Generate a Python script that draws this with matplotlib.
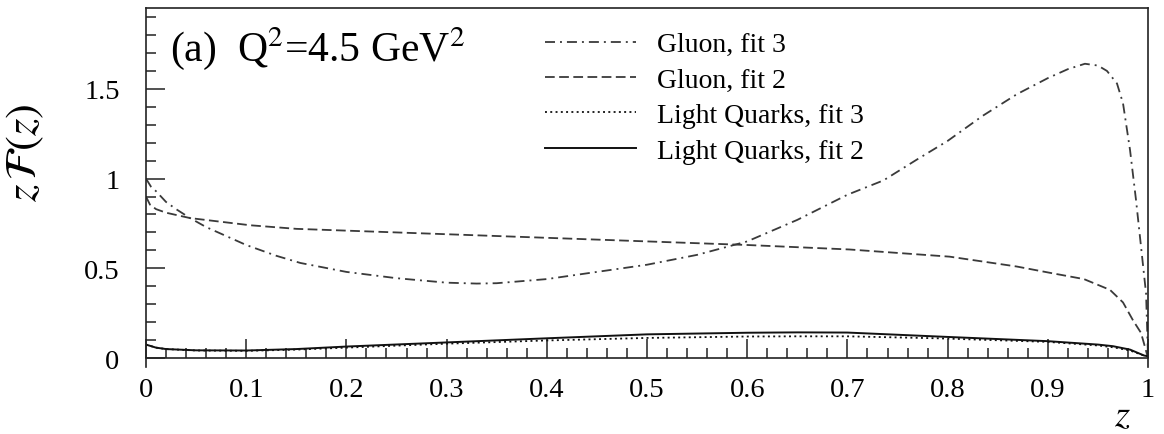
import matplotlib
matplotlib.use("Agg")
import matplotlib.pyplot as plt
from matplotlib.ticker import MultipleLocator, FixedLocator

plt.rcParams['font.family'] = ['Liberation Serif', 'DejaVu Serif']
plt.rcParams['mathtext.fontset'] = 'stix'
plt.rcParams['lines.scale_dashes'] = False

# Gluon, fit 3 (dash-dot)
z_g3 = [0, 0.005, 0.01, 0.02, 0.03, 0.044, 0.06, 0.08, 0.1, 0.13, 0.154, 0.2, 0.25, 0.3,
        0.33, 0.35, 0.4, 0.45, 0.5, 0.55, 0.6, 0.65, 0.7, 0.736, 0.769, 0.8, 0.835, 0.869,
        0.9, 0.92, 0.937, 0.95, 0.959, 0.969, 0.975, 0.982, 0.988, 0.993, 0.998, 1.0]
g3 = [1.0, 0.955, 0.93, 0.87, 0.83, 0.78, 0.73, 0.68, 0.63, 0.57, 0.53, 0.48, 0.445, 0.42,
      0.415, 0.417, 0.44, 0.48, 0.52, 0.575, 0.65, 0.77, 0.91, 0.99, 1.105, 1.21, 1.35, 1.47,
      1.56, 1.61, 1.64, 1.63, 1.60, 1.53, 1.42, 1.16, 0.88, 0.62, 0.36, 0.0]

# Gluon, fit 2 (dashed)
z_g2 = [0, 0.004, 0.01, 0.02, 0.044, 0.074, 0.104, 0.15, 0.2, 0.3, 0.4, 0.5, 0.6, 0.702,
        0.802, 0.869, 0.902, 0.936, 0.962, 0.975, 0.985, 0.993, 1.0]
g2 = [0.9, 0.855, 0.83, 0.81, 0.78, 0.76, 0.74, 0.72, 0.71, 0.69, 0.67, 0.65, 0.63, 0.605,
      0.565, 0.51, 0.475, 0.44, 0.38, 0.31, 0.21, 0.14, 0.0]

# Light quarks
z_q = [0, 0.01, 0.02, 0.05, 0.1, 0.15, 0.2, 0.3, 0.4, 0.5, 0.6, 0.65, 0.7, 0.79, 0.9,
       0.95, 0.965, 0.982, 0.996, 1.0]
q3 = [0.075, 0.058, 0.05, 0.042, 0.04, 0.047, 0.058, 0.08, 0.098, 0.112, 0.12, 0.121,
      0.121, 0.11, 0.09, 0.07, 0.06, 0.042, 0.014, 0.01]
q2 = [0.075, 0.058, 0.05, 0.043, 0.042, 0.05, 0.064, 0.087, 0.11, 0.132, 0.141, 0.143,
      0.142, 0.12, 0.094, 0.075, 0.066, 0.047, 0.014, 0.01]

labels = ["Gluon, fit 3", "Gluon, fit 2", "Light Quarks, fit 3", "Light Quarks, fit 2"]
xtick_vals = [0, 0.1, 0.2, 0.3, 0.4, 0.5, 0.6, 0.7, 0.8, 0.9, 1.0]
xtick_text = ['0', '0.1', '0.2', '0.3', '0.4', '0.5', '0.6', '0.7', '0.8', '0.9', '1']
ytick_vals = [0, 0.5, 1.0, 1.5]
ytick_text = ['0', '0.5', '1', '1.5']

fig = plt.figure(figsize=(11.64, 4.35), dpi=100)
ax = fig.add_axes([0.1254, 0.154, 0.8609, 0.825])

gray = '#3a3a3a'
ax.plot(z_g3, g3, color=gray, lw=1.3, linestyle=(0, (7.2, 3.6, 1.4, 3.6)), label=labels[0])
ax.plot(z_g2, g2, color=gray, lw=1.3, linestyle=(0, (7.0, 3.2)), label=labels[1])
ax.plot(z_q, q3, color='#111111', lw=1.3, linestyle=(0, (1.4, 2.4)), label=labels[2])
ax.plot(z_q, q2, color='#111111', lw=1.4, linestyle='-', label=labels[3])

ax.set_xlim(0, 1)
ax.set_ylim(-0.05, 1.95)

ax.spines['bottom'].set_position(('data', 0))
for s in ax.spines.values():
    s.set_linewidth(1.2)
    s.set_color('#222222')

ax.set_xticks(xtick_vals)
ax.set_xticklabels(xtick_text)
ax.xaxis.set_minor_locator(MultipleLocator(0.02))
ax.set_yticks(ytick_vals)
ax.set_yticklabels(ytick_text)
ax.yaxis.set_minor_locator(FixedLocator([0.1, 0.2, 0.3, 0.4, 0.6, 0.7, 0.8, 0.9,
                                         1.1, 1.2, 1.3, 1.4, 1.6, 1.7, 1.8, 1.9]))

ax.tick_params(which='both', direction='in', top=False, right=False, width=1.1,
               color='#222222', labelsize=20.5)
ax.tick_params(which='major', length=13.5)
ax.tick_params(which='minor', length=7)
ax.tick_params(axis='x', which='major', pad=14)
ax.tick_params(axis='y', which='major', pad=19)

ax.set_ylabel(r'$z\,\mathcal{F}(z)$', fontsize=32)
ax.yaxis.set_label_coords(-0.10, 0.60)
ax.set_xlabel(r'$z$', fontsize=28)
ax.xaxis.set_label_coords(0.974, -0.085)

ax.text(0.024, 0.855, r'(a)  Q$^2$=4.5 GeV$^2$', transform=ax.transAxes,
        fontsize=30, ha='left', va='baseline')

ax.legend(loc='upper left', bbox_to_anchor=(0.398, 0.934), frameon=False,
          fontsize=20, handlelength=3.3, handletextpad=0.75, labelspacing=0.36,
          borderpad=0, borderaxespad=0)

fig.savefig('out.png', dpi=100)
